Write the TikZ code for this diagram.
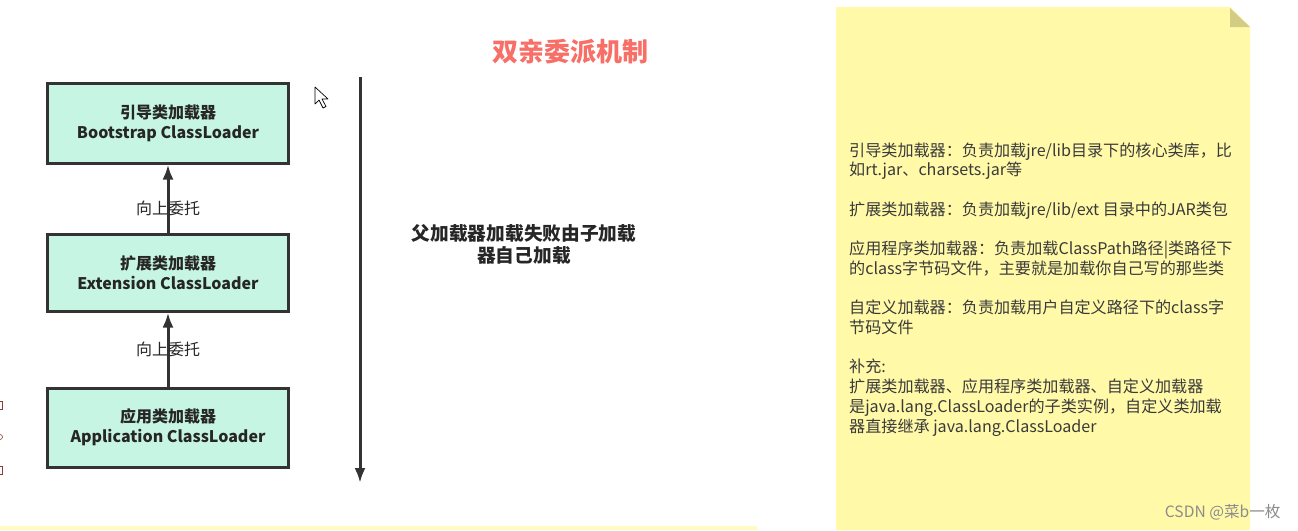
\documentclass[tikz,border=0pt]{standalone}
\usepackage{fontspec}
\setmainfont{Noto Sans CJK SC}
\usetikzlibrary{arrows.meta}
\definecolor{boxfill}{HTML}{C6F5E3}
\definecolor{boxline}{HTML}{333333}
\definecolor{titlered}{HTML}{F76F67}
\definecolor{notefill}{HTML}{FFF9A8}
\definecolor{notefold}{HTML}{D3CC84}
\definecolor{notetext}{HTML}{3A3A3A}
\definecolor{marks}{HTML}{8B3A3A}
\begin{document}
\begin{tikzpicture}[x=1pt,y=-1pt,
  loader/.style={draw=boxline, line width=3pt, fill=boxfill, minimum width=241pt,
    inner sep=0pt, align=center, text=black!85,
    font=\fontsize{16}{20}\selectfont\bfseries},
  lbl/.style={inner sep=1pt, text=black!85, font=\fontsize{16}{18}\selectfont},
  conn/.style={draw=boxline, line width=3pt, -{Latex[length=15pt,width=11pt]}},
  notestyle/.style={anchor=north west, align=left, inner sep=0pt, text=notetext,
    font=\fontsize{16.1}{19.7}\selectfont}]
\useasboundingbox (0,0) rectangle (1298,530);
\fill[white] (0,0) rectangle (1298,530);
% bottom faint line
\fill[notefill!70] (0,526) rectangle (757,530);
% left edge marks
\draw[marks, line width=0.6pt] (-2,401) rectangle (2,409);
\draw[marks, line width=0.6pt] (0,437) circle (2.5);
\draw[marks, line width=0.6pt] (-2,466) rectangle (2,474);
% title
\node[text=titlered, font=\fontsize{26}{30}\selectfont\bfseries] (title) at (570,52) {双亲委派机制};
% loaders
\node[loader, minimum height=80pt] (boot) at (168,123) {引导类加载器\\Bootstrap ClassLoader};
\node[loader, minimum height=77pt] (ext) at (168,272.5) {扩展类加载器\\Extension ClassLoader};
\node[loader, minimum height=79pt] (app) at (168,427.5) {应用类加载器\\Application ClassLoader};
\draw[conn] (ext.north) -- (boot.south);
\draw[conn] (app.north) -- (ext.south);
\node[lbl] (d1) at (168,208) {向上委托};
\node[lbl] (d2) at (168,349) {向上委托};
% long arrow
\coordinate (ls) at (360,77);
\coordinate (le) at (360,483);
\draw[draw=boxline, line width=3pt, -{Latex[length=15pt,width=11pt]}] (ls) -- (le);
\node[align=center, text=black!85, font=\fontsize{18.7}{22}\selectfont\bfseries] (fail) at (524,244)
  {父加载器加载失败由子加载\\器自己加载};
% cursor
\draw[black, fill=white, line width=0.7pt, line join=round]
  (315,87) -- (315,104) -- (319,100) -- (323,108) -- (326,106.5) -- (322,99) -- (328,99) -- cycle;
% sticky note
\fill[notefill] (836,7) -- (1230,7) -- (1250,27) -- (1250,530) -- (836,530) -- cycle;
\fill[notefold] (1230,8) -- (1250,27) -- (1230,27) -- cycle;
\node[notestyle] (note) at (849,142.5) {%
引导类加载器：负责加载jre/lib目录下的核心类库，比\\
如rt.jar、charsets.jar等\\
\mbox{}\\
扩展类加载器：负责加载jre/lib/ext 目录中的JAR类包\\
\mbox{}\\
应用程序类加载器：负责加载ClassPath路径|类路径下\\
的class字节码文件，主要就是加载你自己写的那些类\\
\mbox{}\\
自定义加载器：负责加载用户自定义路径下的class字\\
节码文件\\
\mbox{}\\
补充:\\
扩展类加载器、应用程序类加载器、自定义加载器\\
是java.lang.ClassLoader的子类实例，自定义类加载\\
器直接继承 java.lang.ClassLoader};
\node[anchor=east, text=black!45, font=\fontsize{15.6}{17}\selectfont] (wm) at (1284,512) {CSDN @菜b一枚};
\end{tikzpicture}
\end{document}
